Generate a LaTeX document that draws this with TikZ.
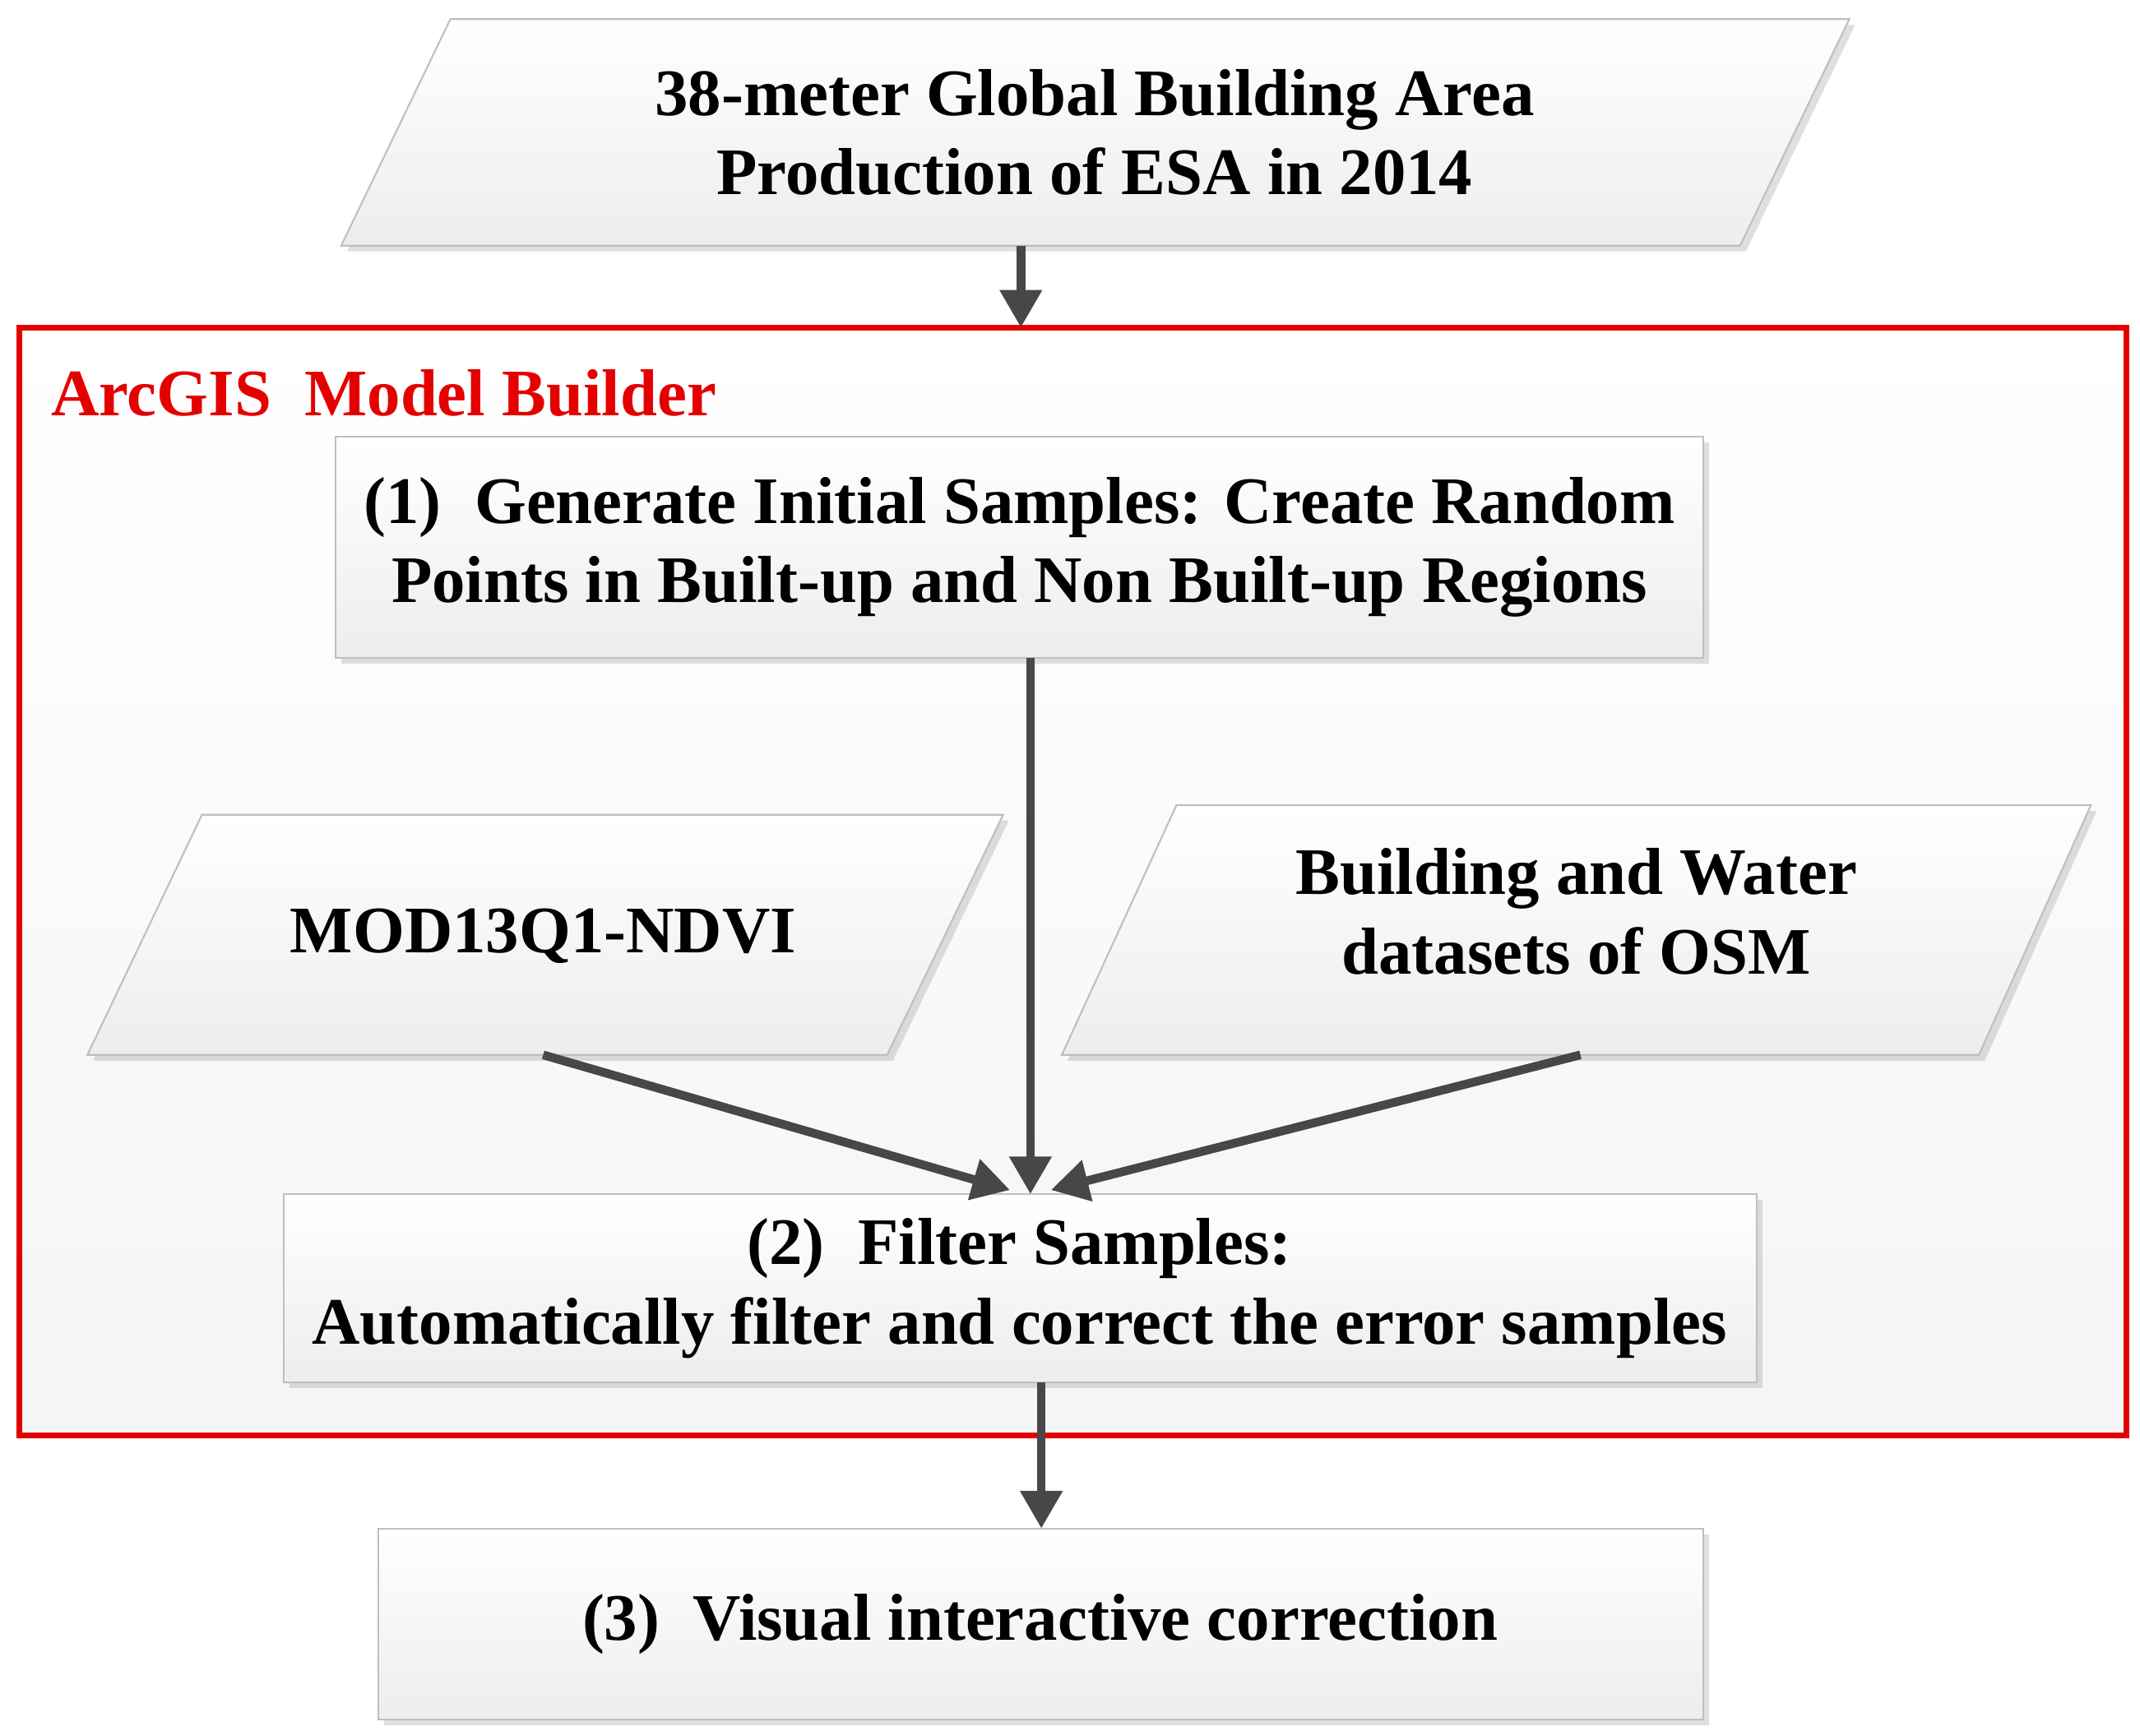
\documentclass[tikz,border=0pt]{standalone}
\usepackage{fontspec}
\setmainfont{Liberation Serif}
\usetikzlibrary{arrows.meta,shadows}
\begin{document}
\begin{tikzpicture}[x=0.016594cm,y=-0.016594cm,
  txt/.style={font=\fontsize{23}{27.5}\selectfont\bfseries,align=center,text=black},
  box/.style={draw=gray!50,line width=0.6pt,top color=white,bottom color=gray!14,
    drop shadow={shadow xshift=2pt,shadow yshift=-2pt,opacity=0.25}},
  arr/.style={draw=black!72,line width=3pt,-{Triangle[length=13pt,width=14pt]}}]
\useasboundingbox (0,0) rectangle (1568,1272);
% container
\draw[draw=red!90!black,line width=2pt,top color=white,bottom color=gray!8] (14,240) rectangle (1558,1052);
\node[anchor=west,font=\fontsize{23}{28}\selectfont\bfseries,text=red!90!black] (title) at (30,288) {ArcGIS\ \ Model Builder};
% inputs
\path[box] (330,14) -- (1355,14) -- (1275,180) -- (250,180) -- cycle;
\node[txt] (esa) at (802,97) {38-meter Global Building Area\\Production of ESA in 2014};
\path[box] (148,597) -- (735,597) -- (650,773) -- (64,773) -- cycle;
\node[txt] (ndvi) at (398,686) {MOD13Q1-NDVI};
\path[box] (862,590) -- (1532,590) -- (1450,773) -- (778,773) -- cycle;
\node[txt] (osm) at (1155,668) {Building and Water\\datasets of OSM};
\coordinate (esab) at (748,180);
\coordinate (ndvib) at (398,773);
\coordinate (osmb) at (1158,773);
% steps
\path[box] (246,320) rectangle (1248,482);
\node[txt] (s1) at (747,401) {(1)\ \ Generate Initial Samples: Create Random\\Points in Built-up and Non Built-up Regions};
\path[box] (208,875) rectangle (1287,1013);
\node[txt] (s2) at (747,944) {(2)\ \ Filter Samples:\\Automatically filter and correct the error samples};
\path[box] (277,1120) rectangle (1248,1260);
\node[txt] (s3) at (762,1190) {(3)\ \ Visual interactive correction};
\coordinate (s1b) at (755,482);
\coordinate (s2t) at (755,875);
\coordinate (s2b) at (763,1013);
\coordinate (s3t) at (763,1120);
\coordinate (boxt) at (748,240);
% connectors
\draw[arr] (esab) -- (boxt);
\draw[arr] (s1b) -- (s2t);
\draw[arr] (ndvib) -- (740,872);
\draw[arr] (osmb) -- (770,872);
\draw[arr] (s2b) -- (s3t);
\end{tikzpicture}
\end{document}
